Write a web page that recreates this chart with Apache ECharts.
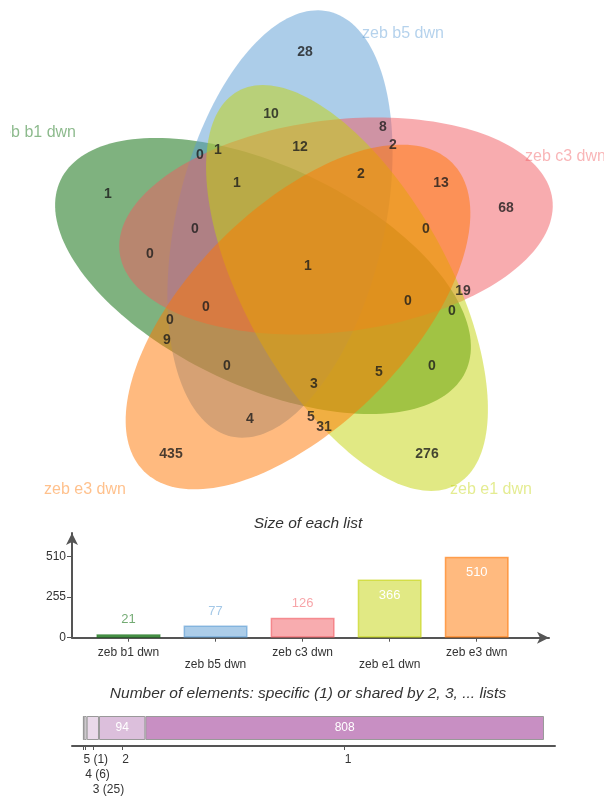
<!DOCTYPE html>
<html>
<head>
<meta charset="utf-8">
<script src="https://cdn.jsdelivr.net/npm/echarts@6/dist/echarts.min.js"></script>
<style>
  html, body { margin: 0; padding: 0; background: #fff; }
  #chart { width: 604px; height: 801px; }
</style>
</head>
<body>
<div id="chart"></div>
<script>
// ---- data ----
const listNames = ['zeb b1 dwn', 'zeb b5 dwn', 'zeb c3 dwn', 'zeb e1 dwn', 'zeb e3 dwn'];
const listSizes = [21, 77, 126, 366, 510];
// element count of each of the 31 Venn regions
const regionCounts = [28, 10, 8, 2, 0, 1, 12, 1, 2, 13, 1, 68, 0, 0, 0, 1, 19, 0, 0, 0, 0, 9, 0, 5, 0, 3, 4, 5, 31, 435, 276];
// elements shared by exactly n lists
const sharedLevels = ['5', '4', '3', '2', '1'];
const sharedCounts = [1, 6, 25, 94, 808];
const sizeTicks = [0, 255, 510];

// ---- layout / style ----
const FONT = '"Liberation Sans", Arial, sans-serif';
const setColors = [[0, 102, 0], [90, 155, 212], [241, 90, 96], [196, 212, 10], [255, 117, 0]];
const rgba = (c, a) => `rgba(${c[0]},${c[1]},${c[2]},${a})`;

// one ellipse per list: centre, semi-axes and axis angle (degrees, counter-clockwise)
const ellipseShapes = [
  { cx: 263, cy: 276, a: 224, b: 110, ang: 154.7 },
  { cx: 280, cy: 224, a: 218, b: 104, ang: 77 },
  { cx: 336, cy: 226, a: 218, b: 106, ang: 7 },
  { cx: 347, cy: 288, a: 225, b: 102, ang: 119 },
  { cx: 298, cy: 317, a: 218, b: 109, ang: 45 }
];

const regionLabelPos = [
  [305, 52], [271, 114], [383, 127], [393, 145], [200, 155], [218, 150], [300, 147],
  [237, 183], [361, 174], [441, 183], [108, 194], [506, 208], [195, 229], [426, 229],
  [150, 254], [308, 266], [463, 291], [408, 301], [452, 311], [206, 307], [170, 320],
  [167, 340], [227, 366], [379, 372], [432, 366], [314, 384], [250, 419], [311, 417],
  [324, 427], [171, 454], [427, 454]
];

const setLabelPos = [
  { x: 76, y: 133, align: 'right' },
  { x: 362, y: 34, align: 'left' },
  { x: 525, y: 157, align: 'left' },
  { x: 450, y: 490, align: 'left' },
  { x: 44, y: 490, align: 'left' }
];

// stacked bar: segment centres derived from the counts
const sharedTotal = sharedCounts.reduce((s, v) => s + v, 0);
const sharedCenters = [];
(function () {
  let acc = 0;
  sharedCounts.forEach(v => { sharedCenters.push(acc + v / 2); acc += v; });
})();
const wideSegment = sharedCounts.map(v => v / sharedTotal > 0.05);
// narrow segments carry their count under the axis, stepping down one row each
const sharedLabelRow = [];
const sharedLabelText = [];
(function () {
  let row = 0;
  sharedCounts.forEach((v, i) => {
    if (wideSegment[i]) { sharedLabelRow.push(0); sharedLabelText.push(sharedLevels[i]); }
    else { sharedLabelRow.push(row); sharedLabelText.push(sharedLevels[i] + ' (' + v + ')'); row++; }
  });
})();
const labelRows = [0, 1, 2];
const ROW_STEP = 15;
const sharedColors = ['#d2d2d2', '#ebe3eb', '#ead9ea', '#dcbfdc', '#c88fc3'];

const chart = echarts.init(document.getElementById('chart'), null, { renderer: 'canvas' });

const axisGray = '#555';
const SHARED_MIN = -22.7, SHARED_MAX = 956.3;

function sharedRowAxis(row) {
  const vals = sharedCenters.filter((c, i) => sharedLabelRow[i] === row);
  return {
    gridIndex: 2, type: 'value', min: SHARED_MIN, max: SHARED_MAX,
    position: 'bottom', offset: row * ROW_STEP,
    splitLine: { show: false },
    axisLine: { show: row === 0, onZero: false, lineStyle: { color: axisGray, width: 2 } },
    axisTick: { show: row === 0, customValues: sharedCenters, length: 4, lineStyle: { color: axisGray } },
    axisLabel: {
      customValues: vals, margin: 8, fontSize: 12, color: '#333', align: 'left', fontFamily: FONT,
      showMinLabel: true, showMaxLabel: true,
      formatter: v => {
        const i = sharedCenters.findIndex(c => Math.abs(c - v) < 1e-6);
        return i < 0 ? '' : sharedLabelText[i];
      }
    }
  };
}

const option = {
  animation: false,
  backgroundColor: '#fff',
  textStyle: { fontFamily: FONT },
  title: [
    {
      text: 'Size of each list', left: 303, textAlign: 'center', top: 511,
      textStyle: { fontFamily: FONT, fontSize: 15.5, fontStyle: 'italic', fontWeight: 'normal', color: '#333' }
    },
    {
      text: 'Number of elements: specific (1) or shared by 2, 3, ... lists', left: 303, textAlign: 'center', top: 681,
      textStyle: { fontFamily: FONT, fontSize: 15.5, fontStyle: 'italic', fontWeight: 'normal', color: '#333' }
    }
  ],
  grid: [
    { left: 0, top: 0, width: 604, height: 510 },
    { left: 72, top: 533, width: 477, height: 104.7 },
    { left: 72, top: 710, width: 483, height: 36 }
  ],
  xAxis: [
    { gridIndex: 0, type: 'value', min: 0, max: 604, show: false },
    {
      gridIndex: 1, type: 'value', min: -0.649, max: 4.83,
      splitLine: { show: false },
      axisLine: { show: true, onZero: false, symbol: ['none', 'arrow'], symbolSize: [9, 12], lineStyle: { color: axisGray, width: 2 } },
      axisTick: { show: true, customValues: [0, 1, 2, 3, 4], length: 4, lineStyle: { color: axisGray } },
      axisLabel: {
        customValues: [0, 1, 2, 3, 4], margin: 9, fontSize: 12, lineHeight: 12, color: '#333', fontFamily: FONT,
        showMinLabel: true, showMaxLabel: true,
        formatter: v => (Math.round(v) % 2 === 1 ? '\n' : '') + listNames[Math.round(v)]
      }
    }
  ].concat(labelRows.map(sharedRowAxis)),
  yAxis: [
    { gridIndex: 0, type: 'value', min: 0, max: 510, inverse: true, show: false },
    {
      gridIndex: 1, type: 'value', min: 0, max: 659,
      splitLine: { show: false },
      axisLine: { show: true, onZero: false, symbol: ['none', 'arrow'], symbolSize: [9, 12], lineStyle: { color: axisGray, width: 2 } },
      axisTick: { show: true, customValues: sizeTicks, length: 5, lineStyle: { color: axisGray } },
      axisLabel: { customValues: sizeTicks, margin: 6, fontSize: 12, color: '#333', fontFamily: FONT, showMinLabel: true, showMaxLabel: true }
    },
    { gridIndex: 2, type: 'category', data: ['all'], show: false }
  ],
  graphic: listNames.map((name, i) => ({
    type: 'text',
    x: setLabelPos[i].x,
    y: setLabelPos[i].y,
    z: 10,
    style: {
      text: name,
      font: '16px ' + FONT,
      fill: rgba(setColors[i], 0.45),
      textAlign: setLabelPos[i].align,
      textVerticalAlign: 'middle'
    }
  })).concat([
    // left margin of the drawing area
    { type: 'rect', x: 0, y: 118, z: 11, shape: { width: 10.2, height: 30 }, style: { fill: '#fff' } }
  ]),
  series: [
    {
      type: 'custom',
      xAxisIndex: 0, yAxisIndex: 0,
      silent: true,
      z: 1,
      data: listNames.map((n, i) => [i, 0]),
      renderItem: (params, api) => {
        const i = api.value(0);
        const e = ellipseShapes[i];
        const ang = e.ang * Math.PI / 180;
        const ux = Math.cos(ang), uy = -Math.sin(ang);
        const vx = Math.sin(ang), vy = Math.cos(ang);
        const pts = [];
        const N = 180;
        for (let k = 0; k < N; k++) {
          const t = k / N * Math.PI * 2;
          const px = e.cx + e.a * Math.cos(t) * ux + e.b * Math.sin(t) * vx;
          const py = e.cy + e.a * Math.cos(t) * uy + e.b * Math.sin(t) * vy;
          pts.push(api.coord([px, py]));
        }
        return { type: 'polygon', shape: { points: pts }, style: { fill: rgba(setColors[i], 0.5), stroke: null } };
      }
    },
    {
      type: 'scatter',
      xAxisIndex: 0, yAxisIndex: 0,
      silent: true,
      z: 5,
      symbolSize: 1,
      itemStyle: { color: 'rgba(0,0,0,0)' },
      data: regionLabelPos.map((p, i) => [p[0], p[1], regionCounts[i]]),
      label: {
        show: true, position: 'inside', formatter: p => String(p.value[2]),
        fontSize: 14, fontWeight: 'bold', color: '#1c1c1c', fontFamily: FONT
      }
    },
    {
      type: 'bar',
      xAxisIndex: 1, yAxisIndex: 1,
      barWidth: 64,
      data: listSizes.map((v, i) => {
        const inside = v / listSizes[listSizes.length - 1] > 0.5;
        return {
          value: [i, v],
          itemStyle: { color: rgba(setColors[i], 0.5), borderColor: rgba(setColors[i], 0.6), borderWidth: 1.5 },
          label: inside
            ? { show: true, position: 'insideTop', distance: 9, color: '#fff', fontSize: 13 }
            : { show: true, position: 'top', distance: 8, color: rgba(setColors[i], 0.55), fontSize: 13 }
        };
      }),
      label: { formatter: p => String(p.value[1]), fontFamily: FONT }
    },
    ...sharedCounts.map((v, i) => ({
      type: 'bar',
      xAxisIndex: 2, yAxisIndex: 2,
      stack: 'shared',
      barWidth: 24,
      data: [v],
      itemStyle: { color: sharedColors[i], borderColor: '#999', borderWidth: 1 },
      label: { show: wideSegment[i], position: 'inside', color: '#fff', fontSize: 12, fontFamily: FONT }
    }))
  ]
};

chart.setOption(option);
</script>
</body>
</html>
